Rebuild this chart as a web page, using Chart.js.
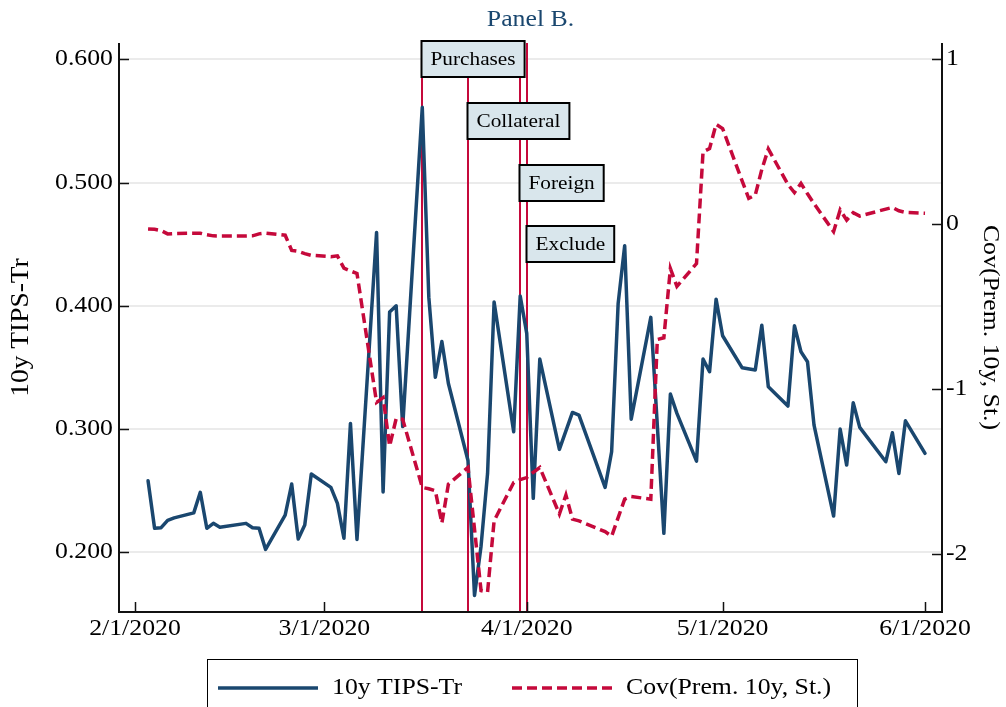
<!DOCTYPE html>
<html>
<head>
<meta charset="utf-8">
<script src="https://cdn.jsdelivr.net/npm/chart.js@4.4.1/dist/chart.umd.min.js"></script>
<style>
  html, body { margin: 0; padding: 0; background: #ffffff; }
  canvas { display: block; }
</style>
</head>
<body>
<canvas id="chart" width="1006" height="707"></canvas>
<script>
// Trading days, Feb–Jun 2020
const dates = [
  '2020-02-03','2020-02-04','2020-02-05','2020-02-06','2020-02-07',
  '2020-02-10','2020-02-11','2020-02-12','2020-02-13','2020-02-14',
  '2020-02-18','2020-02-19','2020-02-20','2020-02-21',
  '2020-02-24','2020-02-25','2020-02-26','2020-02-27','2020-02-28',
  '2020-03-02','2020-03-03','2020-03-04','2020-03-05','2020-03-06',
  '2020-03-09','2020-03-10','2020-03-11','2020-03-12','2020-03-13',
  '2020-03-16','2020-03-17','2020-03-18','2020-03-19','2020-03-20',
  '2020-03-23','2020-03-24','2020-03-25','2020-03-26','2020-03-27',
  '2020-03-30','2020-03-31','2020-04-01','2020-04-02','2020-04-03',
  '2020-04-06','2020-04-08','2020-04-09',
  '2020-04-13','2020-04-14','2020-04-15','2020-04-16','2020-04-17',
  '2020-04-20','2020-04-22','2020-04-23','2020-04-24',
  '2020-04-27','2020-04-28','2020-04-29','2020-04-30','2020-05-01',
  '2020-05-04','2020-05-06','2020-05-07','2020-05-08',
  '2020-05-11','2020-05-12','2020-05-13','2020-05-14','2020-05-15',
  '2020-05-18','2020-05-19','2020-05-20','2020-05-21','2020-05-22',
  '2020-05-26','2020-05-27','2020-05-28','2020-05-29',
  '2020-06-01'
];

// 10y TIPS minus Treasury (left axis)
const tipsTr = [
  0.258, 0.2195, 0.220, 0.226, 0.228,
  0.232, 0.2487, 0.2195, 0.2235, 0.2203,
  0.2235, 0.220, 0.2195, 0.2024,
  0.2302, 0.2554, 0.2108, 0.2221, 0.2635,
  0.2527, 0.2397, 0.2114, 0.3046, 0.2105,
  0.4595, 0.249, 0.395, 0.400, 0.302,
  0.561, 0.407, 0.342, 0.371, 0.337,
  0.2745, 0.165, 0.205, 0.264, 0.403,
  0.2978, 0.408, 0.3776, 0.2438, 0.3568,
  0.2835, 0.3135, 0.3113,
  0.2527, 0.2816, 0.402, 0.4487, 0.308,
  0.3906, 0.2154, 0.3284, 0.3127,
  0.274, 0.3568, 0.3465, 0.4054, 0.3757,
  0.3497, 0.3479, 0.3843, 0.3343,
  0.3187, 0.3838, 0.3627, 0.3546, 0.3032,
  0.2294, 0.300, 0.2708, 0.3213, 0.3014,
  0.2735, 0.297, 0.264, 0.3067,
  0.2803
];

// Cov(Prem. 10y, St.) dates and values (right axis)
const covDates = [
  '2020-02-03','2020-02-04','2020-02-05','2020-02-06','2020-02-07',
  '2020-02-10','2020-02-11','2020-02-12','2020-02-13','2020-02-14',
  '2020-02-18','2020-02-19','2020-02-20','2020-02-21',
  '2020-02-24','2020-02-25','2020-02-26','2020-02-27','2020-02-28',
  '2020-03-02','2020-03-03','2020-03-04','2020-03-05','2020-03-06',
  '2020-03-09','2020-03-10','2020-03-11','2020-03-12','2020-03-13',
  '2020-03-16','2020-03-17','2020-03-18','2020-03-19','2020-03-20',
  '2020-03-23','2020-03-24','2020-03-25','2020-03-26','2020-03-27',
  '2020-03-30','2020-03-31','2020-04-01','2020-04-02','2020-04-03',
  '2020-04-06','2020-04-07','2020-04-08','2020-04-09',
  '2020-04-13','2020-04-14','2020-04-15','2020-04-16','2020-04-17',
  '2020-04-20','2020-04-21','2020-04-22','2020-04-23','2020-04-24',
  '2020-04-27','2020-04-28','2020-04-29','2020-04-30','2020-05-01',
  '2020-05-04','2020-05-05','2020-05-06','2020-05-07','2020-05-08',
  '2020-05-11','2020-05-12','2020-05-13','2020-05-14','2020-05-15',
  '2020-05-18','2020-05-19','2020-05-20','2020-05-21','2020-05-22',
  '2020-05-26','2020-05-27','2020-05-28','2020-05-29',
  '2020-06-01'
];
const covPrem = [
  -0.030, -0.032, -0.040, -0.060, -0.058,
  -0.056, -0.056, -0.065, -0.072, -0.073,
  -0.073, -0.072, -0.060, -0.055,
  -0.068, -0.160, -0.166, -0.180, -0.190,
  -0.198, -0.193, -0.268, -0.285, -0.300,
  -1.082, -1.053, -1.346, -1.180, -1.184,
  -1.597, -1.605, -1.617, -1.813, -1.577,
  -1.476, -1.850, -2.222, -2.231, -1.799,
  -1.567, -1.550, -1.537, -1.505, -1.476,
  -1.758, -1.643, -1.789, -1.800,
  -1.865, -1.893, -1.780, -1.668, -1.652,
  -1.668, -0.700, -0.690, -0.270, -0.378,
  -0.240, 0.437, 0.457, 0.604, 0.578,
  0.260, 0.155, 0.175, 0.330, 0.455,
  0.240, 0.190, 0.246, 0.183, 0.123,
  -0.046, 0.085, 0.024, 0.068, 0.048,
  0.090, 0.100, 0.080, 0.070,
  0.065
];

// Policy announcements: date, label, label height on the left axis
const eventDates  = ['2020-03-16', '2020-03-23', '2020-03-31', '2020-04-01'];
const eventLabels = ['Purchases', 'Collateral', 'Foreign', 'Exclude'];
const eventLevels = [0.60, 0.55, 0.50, 0.45];

// Axis ticks
const leftTicks = [0.2, 0.3, 0.4, 0.5, 0.6];
const leftTickLabels = ['0.200', '0.300', '0.400', '0.500', '0.600'];
const rightTicks = [-2, -1, 0, 1];
const rightTickLabels = ['-2', '-1', '0', '1'];
const xTickDates = ['2020-02-01', '2020-03-01', '2020-04-01', '2020-05-01', '2020-06-01'];
const xTickLabels = ['2/1/2020', '3/1/2020', '4/1/2020', '5/1/2020', '6/1/2020'];

const seriesNames = ['10y TIPS-Tr', 'Cov(Prem. 10y, St.)'];
const panelTitle = 'Panel B.';

const BLUE = '#1a476f';
const RED = '#c5093b';
const SERIF = '"Liberation Serif", "Times New Roman", serif';
const STRETCH = 1.12;

const day = s => Date.UTC(+s.slice(0, 4), +s.slice(5, 7) - 1, +s.slice(8, 10)) / 86400000;
const xStart = day('2020-02-01') - 2.45;
const xEnd = day('2020-06-01') + 2.6;

// Text drawn slightly widened, like the Stata serif output
function sText(ctx, text, x, y, align, size, color, rot) {
  ctx.save();
  ctx.translate(x, y);
  if (rot) ctx.rotate(rot);
  ctx.scale(STRETCH, 1);
  ctx.font = size + 'px ' + SERIF;
  ctx.fillStyle = color || '#000';
  ctx.textAlign = align;
  ctx.textBaseline = 'middle';
  ctx.fillText(text, 0, 0);
  ctx.restore();
}

const eventLinesPlugin = {
  id: 'eventLines',
  beforeDatasetsDraw(chart) {
    const { ctx, chartArea, scales } = chart;
    ctx.save();
    ctx.strokeStyle = RED;
    ctx.lineWidth = 2;
    eventDates.forEach(d => {
      const x = Math.round(scales.x.getPixelForValue(day(d)));
      ctx.beginPath();
      ctx.moveTo(x, chartArea.top);
      ctx.lineTo(x, chartArea.bottom);
      ctx.stroke();
    });
    ctx.restore();
  }
};

const framePlugin = {
  id: 'frame',
  afterDatasetsDraw(chart) {
    const { ctx, chartArea, scales } = chart;
    const { left, right, top, bottom } = chartArea;
    ctx.save();

    // event label boxes
    ctx.font = '19px ' + SERIF;
    eventDates.forEach((d, i) => {
      const x0 = Math.round(scales.x.getPixelForValue(day(d))) - 0.5;
      const yc = scales.y.getPixelForValue(eventLevels[i]);
      const w = ctx.measureText(eventLabels[i]).width * STRETCH + 18;
      const h = 36;
      ctx.fillStyle = '#d9e6ec';
      ctx.fillRect(x0, yc - h / 2, w, h);
      ctx.strokeStyle = '#000';
      ctx.lineWidth = 2;
      ctx.strokeRect(x0, Math.round(yc - h / 2), w, h);
      sText(ctx, eventLabels[i], x0 + w / 2, yc + 1, 'center', 19, '#000');
      ctx.font = '19px ' + SERIF;
    });

    // axis lines
    ctx.strokeStyle = '#111';
    ctx.lineWidth = 2;
    ctx.beginPath();
    ctx.moveTo(left, top); ctx.lineTo(left, bottom);
    ctx.moveTo(right, top); ctx.lineTo(right, bottom);
    ctx.moveTo(left - 1, bottom); ctx.lineTo(right + 1, bottom);
    ctx.stroke();

    // inward ticks
    ctx.lineWidth = 1.5;
    ctx.beginPath();
    leftTicks.forEach(v => {
      const y = Math.round(scales.y.getPixelForValue(v)) + 0.5;
      ctx.moveTo(left, y); ctx.lineTo(left + 10, y);
    });
    rightTicks.forEach(v => {
      const y = Math.round(scales.y2.getPixelForValue(v)) + 0.5;
      ctx.moveTo(right, y); ctx.lineTo(right - 10, y);
    });
    xTickDates.forEach(d => {
      const x = Math.round(scales.x.getPixelForValue(day(d))) + 0.5;
      ctx.moveTo(x, bottom); ctx.lineTo(x, bottom - 10);
    });
    ctx.stroke();

    // tick labels
    leftTicks.forEach((v, i) => sText(ctx, leftTickLabels[i], left - 6, scales.y.getPixelForValue(v), 'right', 23));
    rightTicks.forEach((v, i) => sText(ctx, rightTickLabels[i], right + 4, scales.y2.getPixelForValue(v), 'left', 23));
    xTickDates.forEach((d, i) => sText(ctx, xTickLabels[i], scales.x.getPixelForValue(day(d)), bottom + 17, 'center', 23));

    // titles
    sText(ctx, panelTitle, (left + right) / 2, 20, 'center', 23, BLUE);
    sText(ctx, seriesNames[0], 22, (top + bottom) / 2, 'center', 24.5, '#000', -Math.PI / 2);
    sText(ctx, 'Cov(Prem. 10y, St.)', 990, (top + bottom) / 2, 'center', 23, '#000', Math.PI / 2);

    // legend
    ctx.strokeStyle = '#000';
    ctx.lineWidth = 1;
    ctx.strokeRect(207.5, 659.5, 650, 70);
    const ly = 688;
    chart.data.datasets.forEach((ds, i) => {
      const x0 = i === 0 ? 218 : 512;
      ctx.save();
      ctx.strokeStyle = ds.borderColor;
      ctx.lineWidth = 3.5;
      ctx.setLineDash(ds.borderDash || []);
      ctx.beginPath();
      ctx.moveTo(x0, ly); ctx.lineTo(x0 + 100, ly);
      ctx.stroke();
      ctx.restore();
      sText(ctx, ds.label, x0 + 114, ly, 'left', 23);
    });

    ctx.restore();
  }
};

new Chart(document.getElementById('chart').getContext('2d'), {
  type: 'line',
  data: {
    datasets: [
      {
        label: seriesNames[0],
        data: dates.map((d, i) => ({ x: day(d), y: tipsTr[i] })),
        yAxisID: 'y',
        borderColor: BLUE,
        borderWidth: 3.5,
        pointRadius: 0,
        tension: 0,
        borderJoinStyle: 'round',
        borderCapStyle: 'round',
        order: 2
      },
      {
        label: seriesNames[1],
        data: covDates.map((d, i) => ({ x: day(d), y: covPrem[i] })),
        yAxisID: 'y2',
        borderColor: RED,
        borderWidth: 3.5,
        borderDash: [10, 5],
        pointRadius: 0,
        tension: 0,
        order: 1
      }
    ]
  },
  options: {
    responsive: false,
    animation: false,
    devicePixelRatio: 1,
    layout: { padding: { left: 119, right: 64, top: 43, bottom: 95 } },
    plugins: { legend: { display: false }, tooltip: { enabled: false }, title: { display: false } },
    scales: {
      x: {
        type: 'linear', min: xStart, max: xEnd,
        grid: { display: false, drawTicks: false },
        border: { display: false },
        ticks: { display: false },
        afterFit(s) { s.height = 0; }
      },
      y: {
        position: 'left', min: 0.1516, max: 0.6132,
        afterBuildTicks(s) { s.ticks = leftTicks.map(v => ({ value: v })); },
        grid: { color: '#ebebeb', lineWidth: 2, drawTicks: false },
        border: { display: false },
        ticks: { display: false },
        afterFit(s) { s.width = 0; }
      },
      y2: {
        position: 'right', min: -2.352, max: 1.097,
        grid: { display: false, drawTicks: false },
        border: { display: false },
        ticks: { display: false },
        afterFit(s) { s.width = 0; }
      }
    }
  },
  plugins: [eventLinesPlugin, framePlugin]
});
</script>
</body>
</html>
